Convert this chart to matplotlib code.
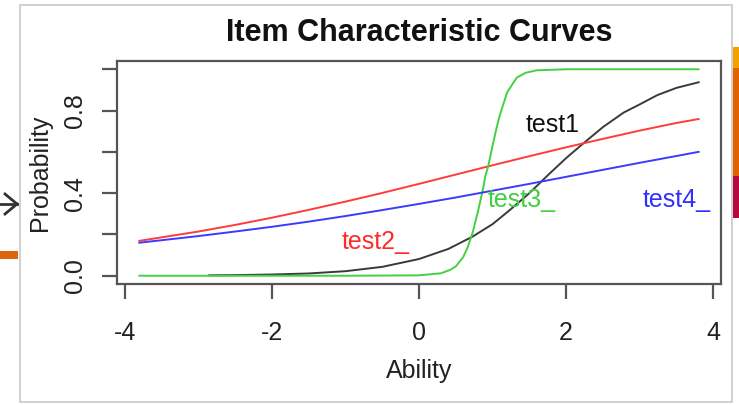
import matplotlib
matplotlib.use("Agg")
import matplotlib.pyplot as plt
from matplotlib.patches import Rectangle
from matplotlib.lines import Line2D

plt.rcParams['font.family'] = ['Liberation Sans', 'DejaVu Sans']

# ---- data ----
ability_1 = [-2.85, -2.5, -2.0, -1.5, -1.0, -0.5, 0.0, 0.4, 0.73, 1.0, 1.24, 1.5,
             1.76, 2.0, 2.23, 2.5, 2.78, 3.0, 3.24, 3.5, 3.8]
prob_test1 = [0.002, 0.003, 0.006, 0.011, 0.022, 0.043, 0.081, 0.13, 0.19, 0.25, 0.32, 0.40,
              0.49, 0.57, 0.64, 0.72, 0.79, 0.83, 0.875, 0.91, 0.937]

ability_2 = [-3.8, -3.0, -2.5, -2.0, -1.5, -1.0, -0.5, 0.0, 0.5, 1.0, 1.5, 2.0, 2.5, 3.0, 3.5, 3.8]
prob_test2 = [0.169, 0.214, 0.246, 0.281, 0.319, 0.359, 0.401, 0.445, 0.490, 0.535, 0.579,
              0.622, 0.663, 0.703, 0.740, 0.759]

ability_3 = [-3.8, -2.0, -1.0, 0.0, 0.3, 0.42, 0.5, 0.6, 0.66, 0.73, 0.8, 0.87, 0.9, 0.94,
             1.0, 1.05, 1.1, 1.2, 1.33, 1.45, 1.6, 2.0, 3.8]
prob_test3 = [0.0, 0.0, 0.0, 0.002, 0.012, 0.028, 0.045, 0.09, 0.136, 0.21, 0.31, 0.42, 0.48,
              0.53, 0.63, 0.71, 0.78, 0.89, 0.96, 0.983, 0.995, 1.0, 1.0]

ability_4 = [-3.8, -3.0, -2.5, -2.0, -1.5, -1.0, -0.5, 0.0, 0.5, 1.0, 1.5, 2.0, 2.5, 3.0, 3.5, 3.8]
prob_test4 = [0.160, 0.192, 0.214, 0.237, 0.262, 0.289, 0.318, 0.348, 0.379, 0.412, 0.445,
              0.479, 0.513, 0.547, 0.580, 0.600]

x_ticks = [-4, -2, 0, 2, 4]
y_ticks = [0.0, 0.2, 0.4, 0.6, 0.8, 1.0]
y_tick_labels = ["0.0", "", "0.4", "", "0.8", ""]

labels = ["test1", "test2_", "test3_", "test4_"]
label_x = [1.81, -0.585, 1.40, 3.50]
label_y = [0.696, 0.130, 0.335, 0.335]

# ---- figure ----
W, H = 739, 405
fig = plt.figure(figsize=(W / 100, H / 100), dpi=100)
fig.patch.set_facecolor('white')

def px(x, y):
    return x / W, 1 - y / H

# light grey frame of the screenshot
x0, y0 = px(20, 402)
fig.patches.append(Rectangle((x0, y0), (732 - 20) / W, (402 - 5) / H, transform=fig.transFigure,
                             fill=False, edgecolor='#c8c8c8', linewidth=1.2))
# decorations outside the frame
for (xa, ya, xb, yb, c) in [(0, 251, 18, 259, '#dc650e'),
                            (732.5, 47, 739, 68, '#f2a100'),
                            (732.5, 68, 739, 176, '#e06300'),
                            (732.5, 176, 739, 218, '#b70a3c')]:
    fx, fy = px(xa, yb)
    fig.patches.append(Rectangle((fx, fy), (xb - xa) / W, (yb - ya) / H, transform=fig.transFigure,
                                 facecolor=c, edgecolor='none'))
# arrow on the left
for seg in [((0, 204), (17, 204)), ((5, 194), (17, 204)), ((5, 214), (17, 204))]:
    (xa, ya), (xb, yb) = seg
    p1 = px(xa, ya); p2 = px(xb, yb)
    fig.lines.append(Line2D([p1[0], p2[0]], [p1[1], p2[1]], transform=fig.transFigure,
                            color='#333333', linewidth=2.0))

ax = fig.add_axes([117 / W, 1 - 284 / H, (721 - 117) / W, (284 - 61) / H])
ax.set_xlim(-4.104, 4.104)
ax.set_ylim(-0.04, 1.04)

lw = 1.4
ax.plot(ability_1, prob_test1, color='#3a3a3a', linewidth=lw)
ax.plot(ability_2, prob_test2, color='#ff3b3b', linewidth=lw)
ax.plot(ability_3, prob_test3, color='#44d044', linewidth=lw)
ax.plot(ability_4, prob_test4, color='#3b3bff', linewidth=lw)

label_colors = ['#111111', '#ff2a2a', '#3fcf3f', '#3030ff']
for t, xx, yy, c in zip(labels, label_x, label_y, label_colors):
    ax.text(xx, yy, t, color=c, fontsize=18, ha='center', va='baseline')

for s in ax.spines.values():
    s.set_color('#555555')
    s.set_linewidth(1.6)

ax.set_xticks(x_ticks)
ax.set_xticklabels([str(v) for v in x_ticks])
ax.set_yticks(y_ticks)
ax.set_yticklabels(y_tick_labels, rotation=90, va='center')
ax.tick_params(axis='both', direction='out', length=10.8, width=1.6, color='#555555',
               labelsize=18, labelcolor='#222222')
ax.tick_params(axis='x', pad=16)
ax.tick_params(axis='y', pad=11)

fig.text(*px(419, 41), "Item Characteristic Curves", fontsize=22, fontweight='bold',
         ha='center', va='baseline', color='#111111')
fig.text(*px(419, 378), "Ability", fontsize=18, ha='center', va='baseline', color='#222222')
fig.text(*px(40, 173), "Probability", fontsize=18, ha='center', va='center', rotation=90,
         color='#222222')

fig.savefig('out.png', dpi=100, facecolor='white')
